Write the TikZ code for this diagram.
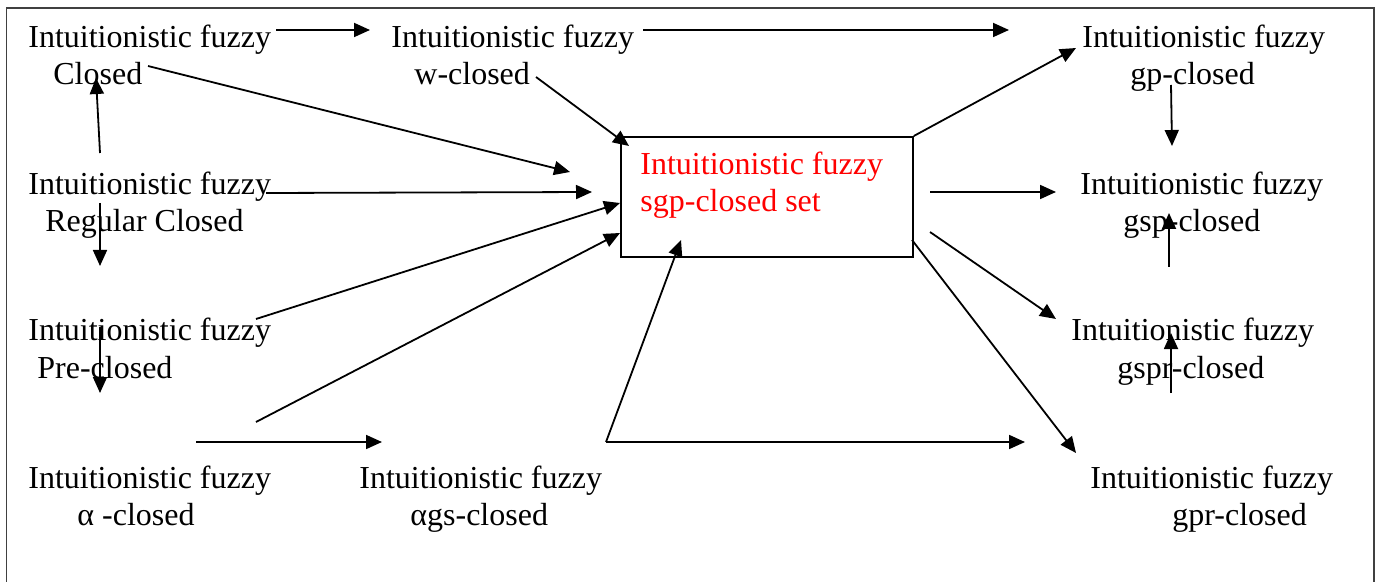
\documentclass[tikz,border=0pt]{standalone}
\usepackage{fontspec}
\setmainfont{Liberation Serif}
\usetikzlibrary{arrows.meta}
\tikzset{
  lab/.style={inner sep=0pt, anchor=base west, align=left, font=\fontsize{16}{18.5}\selectfont},
  arr/.style={line width=0.9pt, -{Triangle[length=8pt,width=7pt]}},
}
\begin{document}
\begin{tikzpicture}[x=0.5pt, y=-0.5pt]
\useasboundingbox (0,0) rectangle (1379,582);
\draw[line width=0.7pt, black!75] (6.5,582) |- (1374,8) -- (1374,582);
% left column
\node[lab] (P_0_0) at (28,85) {Intuitionistic fuzzy\\\hspace*{12.5pt}Closed};
\node[lab] (P_1_0) at (28,232) {Intuitionistic fuzzy\\\hspace*{8.5pt}Regular Closed};
\node[lab] (P_2_0) at (28,378) {Intuitionistic fuzzy\\\hspace*{4.5pt}Pre-closed};
\node[lab] (P_3_0) at (28,525) {Intuitionistic fuzzy\\\hspace*{24.5pt}α -closed};
% middle
\node[lab] (P_0_1) at (391,85) {Intuitionistic fuzzy\\\hspace*{11.5pt}w-closed};
\node[lab] (P_3_1) at (359,525) {Intuitionistic fuzzy\\\hspace*{25.5pt}αgs-closed};
\node[draw, line width=0.9pt, anchor=north west, inner sep=0pt,
  minimum width=146pt, minimum height=60pt] (box) at (620,136) {};
\node[lab, text=red] (P_S) at (640,212) {Intuitionistic fuzzy\\sgp-closed set};
% right column
\node[lab] (P_0_2) at (1082,85) {Intuitionistic fuzzy\\\hspace*{24pt}gp-closed};
\node[lab] (P_1_2) at (1080,232) {Intuitionistic fuzzy\\\hspace*{21.5pt}gsp-closed};
\node[lab] (P_2_2) at (1071,378) {Intuitionistic fuzzy\\\hspace*{23pt}gspr-closed};
\node[lab] (P_3_2) at (1090,525) {Intuitionistic fuzzy\\\hspace*{41pt}gpr-closed};
% arrow ends
\coordinate (Q_1s) at (276,30);
\coordinate (Q_1e) at (370,30);
\draw[arr] (Q_1s) -- (Q_1e);
\coordinate (Q_2s) at (643,30);
\coordinate (Q_2e) at (1009,30);
\draw[arr] (Q_2s) -- (Q_2e);
\coordinate (Q_3s) at (148,66);
\coordinate (Q_3e) at (570,172);
\draw[arr] (Q_3s) -- (Q_3e);
\coordinate (Q_4s) at (536,77);
\coordinate (Q_4e) at (629,146);
\draw[arr] (Q_4s) -- (Q_4e);
\coordinate (Q_5s) at (100,153);
\coordinate (Q_5e) at (96,78);
\draw[arr] (Q_5s) -- (Q_5e);
\coordinate (Q_6s) at (266,193);
\coordinate (Q_6e) at (592,192);
\draw[arr] (Q_6s) -- (Q_6e);
\coordinate (Q_7s) at (100,203);
\coordinate (Q_7e) at (100,266);
\draw[arr] (Q_7s) -- (Q_7e);
\coordinate (Q_8s) at (256,319);
\coordinate (Q_8e) at (620,203);
\draw[arr] (Q_8s) -- (Q_8e);
\coordinate (Q_9s) at (100,327);
\coordinate (Q_9e) at (100,393);
\draw[arr] (Q_9s) -- (Q_9e);
\coordinate (Q_10s) at (256,422);
\coordinate (Q_10e) at (620,233);
\draw[arr] (Q_10s) -- (Q_10e);
\coordinate (Q_11s) at (196,442);
\coordinate (Q_11e) at (382,442);
\draw[arr] (Q_11s) -- (Q_11e);
\coordinate (Q_12s) at (606,442);
\coordinate (Q_12e) at (681,240);
\draw[arr] (Q_12s) -- (Q_12e);
\coordinate (Q_13e) at (1025,442);
\draw[arr] (Q_12s) -- (Q_13e);
\coordinate (Q_14e) at (1076,48);
\draw[arr] (box.north east) -- (Q_14e);
\coordinate (Q_15s) at (1171,85);
\coordinate (Q_15e) at (1172,146);
\draw[arr] (Q_15s) -- (Q_15e);
\coordinate (Q_16s) at (930,192);
\coordinate (Q_16e) at (1056,192);
\draw[arr] (Q_16s) -- (Q_16e);
\coordinate (Q_17s) at (1169,267);
\coordinate (Q_17e) at (1169,213);
\draw[arr] (Q_17s) -- (Q_17e);
\coordinate (Q_18s) at (930,232);
\coordinate (Q_18e) at (1056,319);
\draw[arr] (Q_18s) -- (Q_18e);
\coordinate (Q_19s) at (1171,393);
\coordinate (Q_19e) at (1171,333);
\draw[arr] (Q_19s) -- (Q_19e);
\coordinate (Q_20s) at (912,240);
\coordinate (Q_20e) at (1076,453);
\draw[arr] (Q_20s) -- (Q_20e);
\end{tikzpicture}
\end{document}
